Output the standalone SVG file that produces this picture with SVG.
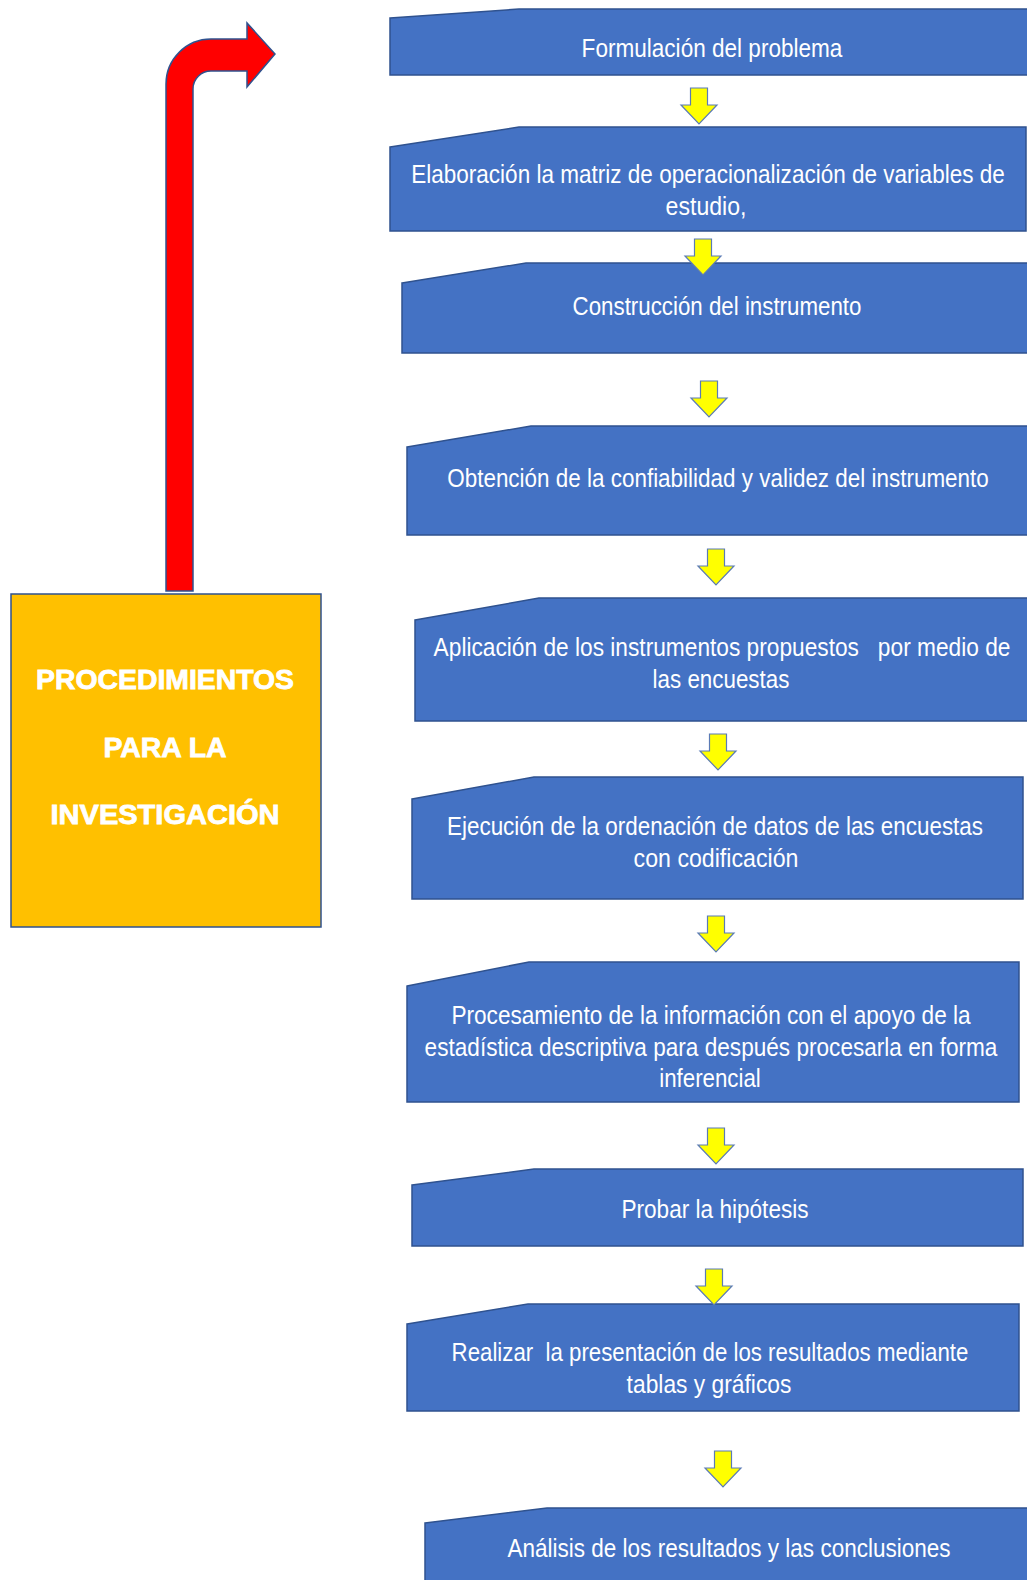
<svg xmlns="http://www.w3.org/2000/svg" xmlns:xlink="http://www.w3.org/1999/xlink" width="1027" height="1580" viewBox="0 0 1027 1580">
<style>
.box{fill:#4472C4;stroke:#2F528F;stroke-width:1.5}
.t{font-family:"Liberation Sans",Arial,sans-serif;font-size:26px;fill:#FFFFFF;text-anchor:middle}
.title{font-family:"Liberation Sans",Arial,sans-serif;font-weight:bold;font-size:27px;fill:#FFFFFF;stroke:#FFFFFF;stroke-width:0.8;text-anchor:middle}
.arr{fill:#FFFF00;stroke:#5B7BB5;stroke-width:1.2}
</style>
<defs>
<path id="down" d="M -8.5 0 H 8.5 V 17 H 18 L 0 36 L -18 17 H -8.5 Z"/>
</defs>
<rect width="1027" height="1580" fill="#FFFFFF"/>
<g id="connectors">
<path id="red-arrow" d="M 166 591 V 84 A 45 45 0 0 1 211 39 H 247 V 23 L 275 54 L 247 87 V 71 H 211 A 18 18 0 0 0 193 89 V 591 Z" fill="#FF0000" stroke="#2F528F" stroke-width="1.5"/>
</g>
<g id="n0">
<rect x="11" y="594" width="310" height="333" fill="#FFC000" stroke="#2F528F" stroke-width="1.5"/>
<text class="title" x="165" y="689" textLength="258" lengthAdjust="spacingAndGlyphs">PROCEDIMIENTOS</text>
<text class="title" x="165" y="757" textLength="123" lengthAdjust="spacingAndGlyphs">PARA LA</text>
<text class="title" x="165" y="824" textLength="229" lengthAdjust="spacingAndGlyphs">INVESTIGACIÓN</text>
</g>
<g id="n1">
<path class="box" d="M 390 18 L 519 9 H 1030 V 75 H 390 Z"/>
<text class="t" transform="translate(712 57) scale(0.8 1)" textLength="326" lengthAdjust="spacingAndGlyphs">Formulación del problema</text>
</g>
<g id="n2">
<path class="box" d="M 390 147 L 519 127 H 1026 V 231 H 390 Z"/>
<text class="t" transform="translate(708 183) scale(0.8 1)" textLength="742" lengthAdjust="spacingAndGlyphs">Elaboración la matriz de operacionalización de variables de</text>
<text class="t" transform="translate(706 215) scale(0.8 1)" textLength="101" lengthAdjust="spacingAndGlyphs">estudio,</text>
</g>
<g id="n3">
<path class="box" d="M 402 283 L 526 263 H 1030 V 353 H 402 Z"/>
<text class="t" transform="translate(717 315) scale(0.8 1)" textLength="361" lengthAdjust="spacingAndGlyphs">Construcción del instrumento</text>
</g>
<g id="n4">
<path class="box" d="M 407 447 L 531 426 H 1030 V 535 H 407 Z"/>
<text class="t" transform="translate(718 487) scale(0.8 1)" textLength="677" lengthAdjust="spacingAndGlyphs">Obtención de la confiabilidad y validez del instrumento</text>
</g>
<g id="n5">
<path class="box" d="M 415 620 L 539 598 H 1030 V 721 H 415 Z"/>
<text class="t" transform="translate(722 656) scale(0.8 1)" textLength="721" lengthAdjust="spacingAndGlyphs" xml:space="preserve">Aplicación de los instrumentos propuestos   por medio de</text>
<text class="t" transform="translate(721 688) scale(0.8 1)" textLength="171" lengthAdjust="spacingAndGlyphs">las encuestas</text>
</g>
<g id="n6">
<path class="box" d="M 412 799 L 534 777 H 1023 V 899 H 412 Z"/>
<text class="t" transform="translate(715 835) scale(0.8 1)" textLength="670" lengthAdjust="spacingAndGlyphs">Ejecución de la ordenación de datos de las encuestas</text>
<text class="t" transform="translate(716 867) scale(0.8 1)" textLength="206" lengthAdjust="spacingAndGlyphs">con codificación</text>
</g>
<g id="n7">
<path class="box" d="M 407 986 L 529 962 H 1019 V 1102 H 407 Z"/>
<text class="t" transform="translate(711 1024) scale(0.8 1)" textLength="649" lengthAdjust="spacingAndGlyphs">Procesamiento de la información con el apoyo de la</text>
<text class="t" transform="translate(711 1056) scale(0.8 1)" textLength="716" lengthAdjust="spacingAndGlyphs">estadística descriptiva para después procesarla en forma</text>
<text class="t" transform="translate(710 1087) scale(0.8 1)" textLength="127" lengthAdjust="spacingAndGlyphs">inferencial</text>
</g>
<g id="n8">
<path class="box" d="M 412 1185 L 534 1169 H 1023 V 1246 H 412 Z"/>
<text class="t" transform="translate(715 1218) scale(0.8 1)" textLength="234" lengthAdjust="spacingAndGlyphs">Probar la hipótesis</text>
</g>
<g id="n9">
<path class="box" d="M 407 1324 L 528 1304 H 1019 V 1411 H 407 Z"/>
<text class="t" transform="translate(710 1361) scale(0.8 1)" textLength="646" lengthAdjust="spacingAndGlyphs" xml:space="preserve">Realizar  la presentación de los resultados mediante</text>
<text class="t" transform="translate(709 1393) scale(0.8 1)" textLength="206" lengthAdjust="spacingAndGlyphs">tablas y gráficos</text>
</g>
<g id="n10">
<path class="box" d="M 425 1523 L 547 1508 H 1030 V 1590 H 425 Z"/>
<text class="t" transform="translate(729 1557) scale(0.8 1)" textLength="554" lengthAdjust="spacingAndGlyphs">Análisis de los resultados y las conclusiones</text>
</g>
<g id="arrows">
<use xlink:href="#down" href="#down" class="arr" x="699" y="88"/>
<use xlink:href="#down" href="#down" class="arr" x="703" y="239"/>
<use xlink:href="#down" href="#down" class="arr" x="709" y="381"/>
<use xlink:href="#down" href="#down" class="arr" x="716" y="549"/>
<use xlink:href="#down" href="#down" class="arr" x="718" y="734"/>
<use xlink:href="#down" href="#down" class="arr" x="716" y="916"/>
<use xlink:href="#down" href="#down" class="arr" x="716" y="1128"/>
<use xlink:href="#down" href="#down" class="arr" x="714" y="1269"/>
<use xlink:href="#down" href="#down" class="arr" x="723" y="1451"/>
</g>
</svg>
